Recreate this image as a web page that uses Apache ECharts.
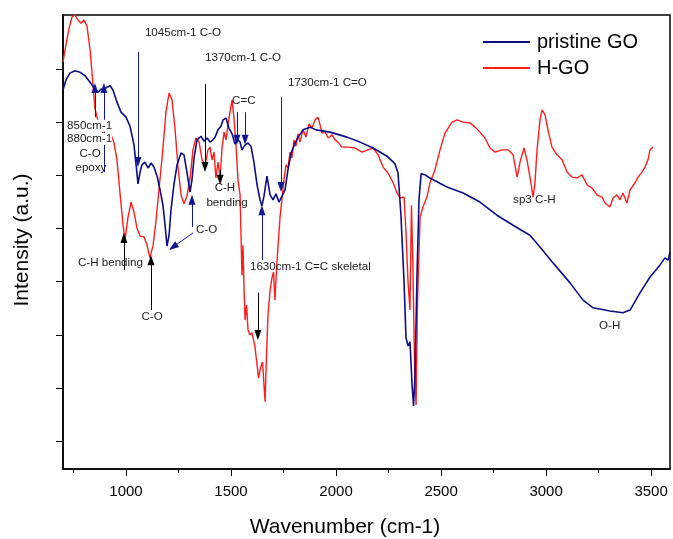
<!DOCTYPE html>
<html>
<head>
<meta charset="utf-8">
<script src="https://cdn.jsdelivr.net/npm/echarts/dist/echarts.min.js"></script>
<style>
html,body{margin:0;padding:0;background:#fff;}
#chart{width:673px;height:539px;}
</style>
</head>
<body>
<div id="chart"></div>
<script>
// ---- data (wavenumber cm-1, intensity a.u.) ----
const seriesNames = ['pristine GO', 'H-GO'];
const pristineGO = [[700,83.5],[714,85.7],[733,87.2],[757,87.7],[781,87.4],[805,86.6],[829,85.2],[848,83.9],[867,83.0],[881,83.7],[895,83.5],[909,84.1],[924,84.4],[938,83.5],[957,80.8],[976,78.6],[1000,77.5],[1019,75.5],[1038,71.4],[1048,67.0],[1057,62.8],[1067,65.4],[1076,67.0],[1090,67.6],[1105,66.3],[1119,67.4],[1133,66.5],[1148,64.5],[1162,61.5],[1176,58.1],[1186,53.7],[1195,49.1],[1205,51.5],[1214,57.0],[1228,62.6],[1243,67.0],[1262,69.6],[1276,69.2],[1290,65.4],[1305,61.0],[1314,63.7],[1324,68.5],[1338,72.5],[1357,73.3],[1371,72.2],[1386,72.9],[1400,72.0],[1414,72.5],[1424,73.1],[1438,74.7],[1452,75.5],[1462,76.9],[1476,77.3],[1490,75.1],[1505,73.8],[1519,71.6],[1533,72.5],[1543,72.0],[1552,70.3],[1567,71.4],[1581,71.8],[1595,71.1],[1609,67.6],[1624,62.6],[1638,59.3],[1647,57.9],[1657,60.1],[1671,64.5],[1686,60.4],[1700,59.3],[1714,60.6],[1728,58.8],[1743,60.1],[1757,61.5],[1771,65.9],[1786,69.6],[1805,71.8],[1819,73.1],[1843,74.7],[1876,75.3],[1905,74.7],[1971,74.2],[2052,73.1],[2114,72.0],[2176,70.7],[2243,68.9],[2281,67.2],[2295,65.2],[2309,55.9],[2324,41.0],[2333,28.9],[2343,27.1],[2352,28.0],[2362,18.5],[2369,13.9],[2376,20.7],[2386,43.8],[2395,59.3],[2405,65.0],[2424,64.8],[2447,64.1],[2528,62.1],[2605,60.8],[2685,58.8],[2766,55.9],[2843,53.7],[2923,51.5],[2971,48.9],[3033,45.4],[3114,41.0],[3176,37.2],[3224,35.5],[3304,34.8],[3366,34.4],[3400,35.0],[3447,38.8],[3495,42.3],[3542,44.9],[3566,46.5],[3581,46.0],[3590,47.8]];
const hGO = [[700,89.6],[714,93.4],[729,97.1],[743,99.6],[757,100.0],[771,98.9],[786,98.2],[800,98.9],[814,97.6],[829,92.3],[843,84.6],[852,79.5],[871,75.8],[890,74.0],[909,73.1],[929,73.6],[943,71.8],[957,68.1],[971,61.0],[986,53.7],[995,50.4],[1009,55.3],[1024,58.8],[1038,56.6],[1052,53.1],[1067,51.3],[1086,51.1],[1100,49.3],[1114,46.5],[1129,49.3],[1143,54.8],[1157,61.5],[1176,70.7],[1190,78.6],[1205,82.8],[1219,81.3],[1233,75.1],[1248,66.3],[1262,60.4],[1276,58.4],[1290,60.1],[1305,64.1],[1319,70.3],[1333,72.9],[1348,72.0],[1362,68.1],[1376,66.7],[1390,70.3],[1400,70.9],[1409,68.1],[1419,69.8],[1428,64.1],[1438,67.6],[1448,64.1],[1457,70.7],[1467,74.2],[1476,72.5],[1486,76.0],[1495,78.6],[1505,81.3],[1514,77.3],[1524,71.1],[1533,63.7],[1543,60.4],[1547,52.6],[1552,42.7],[1557,49.3],[1562,39.4],[1567,32.8],[1574,36.1],[1581,30.6],[1590,29.5],[1600,30.0],[1614,26.9],[1624,22.9],[1631,20.0],[1640,22.2],[1650,23.6],[1662,14.8],[1669,25.1],[1676,33.9],[1686,39.4],[1695,42.1],[1702,43.4],[1709,37.2],[1717,44.3],[1724,49.3],[1733,55.3],[1743,59.7],[1752,63.7],[1762,67.0],[1771,66.3],[1781,69.8],[1790,68.5],[1800,72.5],[1809,71.1],[1819,73.8],[1828,72.0],[1843,74.7],[1857,73.1],[1871,76.0],[1886,75.1],[1900,76.9],[1914,77.5],[1924,75.8],[1933,74.0],[1947,74.4],[1962,72.9],[1981,73.6],[1995,72.5],[2009,72.0],[2028,70.9],[2057,70.9],[2090,70.7],[2124,69.8],[2152,70.3],[2176,70.7],[2200,69.2],[2224,66.5],[2247,65.2],[2271,63.2],[2290,60.8],[2305,59.7],[2324,59.9],[2333,52.0],[2343,41.0],[2352,35.0],[2359,58.1],[2366,44.5],[2374,22.5],[2381,14.1],[2388,37.2],[2400,55.5],[2414,57.7],[2433,59.9],[2447,63.0],[2471,65.9],[2495,70.3],[2519,74.0],[2552,76.4],[2576,76.9],[2605,76.4],[2638,76.2],[2662,75.3],[2685,74.2],[2709,72.9],[2733,70.7],[2757,69.8],[2790,70.3],[2819,70.3],[2843,69.2],[2862,64.3],[2876,67.6],[2895,70.7],[2909,68.1],[2928,63.0],[2938,59.9],[2947,63.0],[2957,70.3],[2971,76.9],[2981,79.1],[2995,78.0],[3009,74.7],[3028,70.9],[3052,69.2],[3076,68.1],[3100,65.4],[3123,64.3],[3147,64.1],[3171,64.8],[3195,62.6],[3219,61.9],[3242,60.4],[3266,59.9],[3281,58.6],[3304,57.7],[3319,59.7],[3338,60.4],[3352,59.3],[3366,60.8],[3385,58.6],[3400,61.5],[3423,63.0],[3438,64.3],[3457,65.4],[3471,66.5],[3485,68.1],[3495,70.3],[3509,70.9]];

// ---- axis ticks ----
const xMajorTicks = [1000,1500,2000,2500,3000,3500];
const xMinorTicks = [750,1250,1750,2250,2750,3250];
const yTicks = [88.1,76.4,64.7,53.0,41.3,29.5,17.8,6.1];

// ---- annotations: [text, wavenumber, intensity, align] ----
const annotations = [
  ['1045cm-1 C-O', 1090, 96.0, 'left'],
  ['1370cm-1 C-O', 1376, 90.5, 'left'],
  ['1730cm-1 C=O', 1771, 85.0, 'left'],
  ['C=C', 1505, 81.1, 'left'],
  ['C-H', 1471, 61.9, 'center'],
  ['bending', 1481, 58.6, 'center'],
  ['C-O', 829, 69.4, 'center'],
  ['epoxy', 833, 66.3, 'center'],
  ['C-H bending', 771, 45.4, 'left'],
  ['C-O', 1124, 33.5, 'center'],
  ['C-O', 1333, 52.6, 'left'],
  ['1630cm-1 C=C skeletal', 1590, 44.5, 'left'],
  ['sp3 C-H', 2843, 59.3, 'left'],
  ['O-H', 3252, 31.5, 'left']
];
const boxedAnnotations = [
  ['850cm-1', 719, 75.6],
  ['880cm-1', 719, 72.7]
];
// arrows: [x1, y1, x2, y2] (head at second point)
const navyArrows = [
  [1057, 91.9, 1057, 67.6],
  [852, 77.5, 852, 83.9],
  [895, 65.4, 895, 83.9],
  [1319, 52.0, 1224, 48.9],
  [1314, 53.3, 1314, 59.3],
  [1528, 78.6, 1528, 72.5],
  [1567, 78.6, 1567, 72.5],
  [1738, 81.9, 1738, 62.1],
  [1647, 46.0, 1647, 57.0]
];
const blackArrows = [
  [1376, 84.8, 1376, 66.5],
  [1448, 65.9, 1448, 63.7],
  [990, 43.8, 990, 50.9],
  [1119, 35.0, 1119, 46.0],
  [1628, 38.8, 1628, 29.5]
];

const BLUE = '#0d0d86';
const RED = '#ff1c1c';
const FONT = '"Liberation Sans", Arial, sans-serif';

function arrowLines(list, color) {
  return list.map(a => [
    {coord: [a[0], a[1]], lineStyle: {color: color, width: 1, type: 'solid'}},
    {coord: [a[2], a[3]]}
  ]);
}

const chart = echarts.init(document.getElementById('chart'), null, {renderer: 'canvas'});
chart.setOption({
  animation: false,
  backgroundColor: '#fff',
  grid: {left: 63, right: 3, top: 15, bottom: 70, show: true, borderColor: '#000', borderWidth: 1.5, backgroundColor: 'transparent'},
  legend: {
    data: seriesNames,
    orient: 'vertical',
    left: 483, top: 32, padding: 0,
    itemWidth: 47, itemHeight: 2, itemGap: 6,
    icon: 'rect',
    textStyle: {fontFamily: FONT, fontSize: 20, color: '#000', padding: [0,0,0,2]}
  },
  xAxis: [{
    type: 'value', min: 700, max: 3590,
    axisLine: {show: true, onZero: false, lineStyle: {color: '#000', width: 1.5}},
    axisTick: {show: true, inside: false, length: 7, customValues: xMajorTicks, lineStyle: {color: '#000', width: 1}},
    axisLabel: {show: true, customValues: xMajorTicks, formatter: v => String(v), fontFamily: FONT, fontSize: 15, color: '#000', margin: 15},
    splitLine: {show: false}
  }, {
    type: 'value', min: 700, max: 3590, position: 'bottom', gridIndex: 0,
    axisLine: {show: false},
    axisTick: {show: true, inside: false, length: 4, customValues: xMinorTicks, lineStyle: {color: '#000', width: 1}},
    axisLabel: {show: false},
    splitLine: {show: false}
  }],
  yAxis: {
    type: 'value', min: 0, max: 100,
    axisLine: {show: true, onZero: false, lineStyle: {color: '#000', width: 1.5}},
    axisTick: {show: true, inside: false, length: 7, customValues: yTicks, lineStyle: {color: '#000', width: 1}},
    axisLabel: {show: false},
    splitLine: {show: false}
  },
  series: [{
    name: seriesNames[0], type: 'line', data: pristineGO, xAxisIndex: 0,
    showSymbol: false, symbol: 'none', color: BLUE,
    lineStyle: {color: BLUE, width: 1.6}, z: 3,
    markLine: {silent: true, symbol: ['none', 'triangle'], symbolSize: [7, 10], label: {show: false},
      lineStyle: {color: '#141496', width: 1, type: 'solid'}, itemStyle: {color: '#141496'},
      data: arrowLines(navyArrows, '#141496')}
  }, {
    name: seriesNames[1], type: 'line', data: hGO, xAxisIndex: 0,
    showSymbol: false, symbol: 'none', color: RED,
    lineStyle: {color: RED, width: 1.4}, z: 2,
    markLine: {silent: true, symbol: ['none', 'triangle'], symbolSize: [7, 10], label: {show: false},
      lineStyle: {color: '#000', width: 1, type: 'solid'}, itemStyle: {color: '#000'},
      data: arrowLines(blackArrows, '#000')}
  }]
});

const graphics = [];
annotations.forEach(a => {
  const p = chart.convertToPixel({xAxisIndex: 0, yAxisIndex: 0}, [a[1], a[2]]);
  graphics.push({type: 'text', x: p[0], y: p[1], z: 100,
    style: {text: a[0], font: '11.6px ' + FONT, fill: '#1a1a1a', align: a[3], verticalAlign: 'middle'}});
});
boxedAnnotations.forEach(a => {
  const p = chart.convertToPixel({xAxisIndex: 0, yAxisIndex: 0}, [a[1], a[2]]);
  graphics.push({type: 'text', x: p[0], y: p[1], z: 100,
    style: {text: a[0], font: '11.6px ' + FONT, fill: '#1a1a1a', align: 'left', verticalAlign: 'middle',
      backgroundColor: '#fff', padding: [0, 0, 0, 0]}});
});
graphics.push({type: 'text', x: 345, y: 527, z: 100,
  style: {text: 'Wavenumber (cm-1)', font: '21px ' + FONT, fill: '#000', align: 'center', verticalAlign: 'middle'}});
graphics.push({type: 'text', x: 22, y: 240, rotation: Math.PI / 2, z: 100,
  style: {text: 'Intensity (a.u.)', font: '21px ' + FONT, fill: '#000', align: 'center', verticalAlign: 'middle'}});
chart.setOption({graphic: graphics});
</script>
</body>
</html>
